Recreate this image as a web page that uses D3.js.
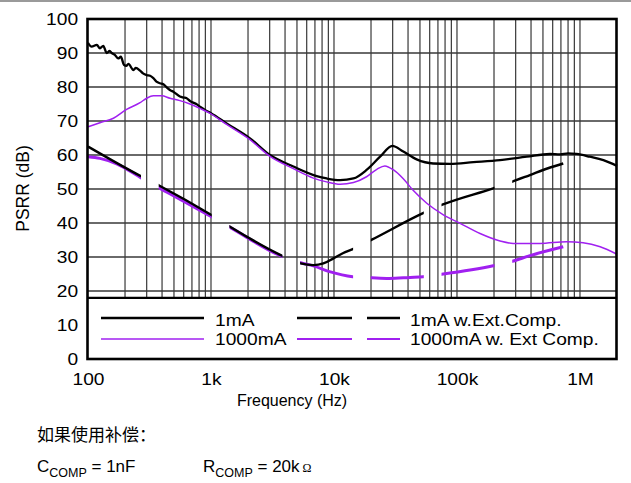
<!DOCTYPE html>
<html>
<head>
<meta charset="utf-8">
<script src="https://cdn.jsdelivr.net/npm/d3@7"></script>
<style>
  body { margin: 0; background: #fff; }
  svg { display: block; font-family: "Liberation Sans", Arial, sans-serif; }
</style>
</head>
<body>
<svg id="chart" width="631" height="483"></svg>
<script>
// PSRR vs frequency, four load / compensation conditions
const freq1mA = [100,107,118,125,133,142,150,156,166,176,185,196,205,213,234,245,265,280,300,320,
  340,360,385,410,436,470,494,559,600,634,680,718,760,814,900,1000,1340,2075,3020,4670,
  7230,8730,11200,14400,18400,23700,29800,36600,47000,64000,87700,136000,224000,369000,570000,688000,800000,940000,1200000,1550000,2000000];
const psrr1mA = [93.0,91.9,92.4,91.4,92.1,90.0,90.6,90.0,89.4,88.4,88.9,86.5,86.2,86.8,85.0,85.6,84.8,84.0,83.5,83.3,
  82.6,81.6,81.1,80.8,79.9,79.0,78.6,77.2,76.9,76.7,75.8,75.4,75.0,74.2,73.2,72.3,69.3,64.9,60.0,56.6,
  53.8,53.1,52.6,53.1,55.6,59.5,62.7,61.0,58.7,57.5,57.4,57.9,58.5,59.5,60.3,60.2,60.5,60.3,59.5,58.5,56.8];

const freq1000mA = [100,125,161,206,265,300,340,397,464,559,674,814,1000,1340,2075,3020,4670,6800,8700,11200,
  14400,18400,22300,25900,30500,36600,44000,56800,77500,106000,154000,224000,287000,473000,779000,1060000,1460000,2000000];
const psrr1000mA = [68.3,69.5,70.8,73.4,75.4,76.7,77.4,77.4,76.7,76.0,75.0,73.7,72.1,69.0,64.5,59.6,56.0,53.2,52.1,51.4,
  51.9,53.6,55.8,56.8,55.6,53.0,49.6,45.8,42.4,39.9,36.9,34.7,34.0,34.0,34.5,34.2,33.0,30.8];

const freqExt1mA = [100,275,385,1000,1430,3830,5360,6800,8200,9900,11800,14200,20300,53000,75000,197000,279000,392000,550000,731000];
const psrrExt1mA = [62.5,53.6,50.9,42.4,38.9,30.3,28.1,27.6,28.1,29.6,31.1,32.3,35.1,42.9,45.3,50.2,52.1,54.1,56.1,57.5];

const freqExt1000mA = [100,125,171,275,385,1000,1430,3830,5360,6800,9200,14200,20300,28000,41600,53000,75000,197000,279000,392000,731000];
const psrrExt1000mA = [59.5,59.0,57.4,53.1,50.2,41.9,38.7,30.1,28.3,27.4,25.7,24.2,23.9,23.7,24.0,24.2,24.9,27.4,28.7,30.4,33.0];

const xTickValues = [100, 1e3, 1e4, 1e5, 1e6];
const xTickLabels = ["100", "1k", "10k", "100k", "1M"];
const yTickValues = [0, 10, 20, 30, 40, 50, 60, 70, 80, 90, 100];
const gridDbValues = [20, 30, 40, 50, 60, 70, 80, 90];
const legendLabels = ["1mA", "1000mA", "1mA w.Ext.Comp.", "1000mA w. Ext Comp."];
const xTitle = "Frequency (Hz)";
const yTitle = "PSRR (dB)";
const noteLine = "如果使用补偿：";

const BLACK = "#000", PURPLE = "#a020f0", GRID = "#383838";
const TEXT_STRETCH = 1.13;

const svg = d3.select("#chart");
const x = d3.scaleLog().domain([100, 2e6]).range([88, 617]);
const y = d3.scaleLinear().domain([0, 100]).range([359, 19]);
const legendTop = y(18);

// thin rule across the top of the page
svg.append("rect").attr("x", 0).attr("y", 0).attr("width", 631).attr("height", 2).attr("fill", "#9a9a9a");

// grid
const minorFreqs = [];
for (let d = 100; d < 2e6; d *= 10) for (let m = 1; m <= 9; m++) {
  const f = d * m;
  if (f > 100 && f < 2e6) minorFreqs.push(f);
}
const grid = svg.append("g");
grid.selectAll("line.v").data(minorFreqs).join("line")
  .attr("x1", d => x(d)).attr("x2", d => x(d))
  .attr("y1", y(100)).attr("y2", legendTop)
  .attr("stroke", GRID).attr("stroke-width", 1.2);
grid.selectAll("line.h").data(gridDbValues).join("line")
  .attr("x1", x.range()[0]).attr("x2", x.range()[1])
  .attr("y1", d => y(d)).attr("y2", d => y(d))
  .attr("stroke", GRID).attr("stroke-width", 1.3);

// dash pattern laid out along the frequency axis
const dashPeriod = 70.7, dashLen = 53;
const defs = svg.append("defs");
const clip = defs.append("clipPath").attr("id", "dashClip");
d3.range(x.range()[0], x.range()[1], dashPeriod).forEach(s => {
  clip.append("rect").attr("x", s).attr("y", y(100)).attr("width", dashLen).attr("height", y(0) - y(100));
});

const line = d3.line().curve(d3.curveMonotoneX).x(d => x(d[0])).y(d => y(d[1]));
const zip = (a, b) => a.map((v, i) => [v, b[i]]);

const curves = svg.append("g");
curves.append("path").attr("d", line(zip(freq1mA, psrr1mA)))
  .attr("fill", "none").attr("stroke", BLACK).attr("stroke-width", 2.3).attr("stroke-linejoin", "round");
curves.append("path").attr("d", line(zip(freq1000mA, psrr1000mA)))
  .attr("fill", "none").attr("stroke", PURPLE).attr("stroke-width", 1.5);
curves.append("path").attr("d", line(zip(freqExt1000mA, psrrExt1000mA)))
  .attr("fill", "none").attr("stroke", PURPLE).attr("stroke-width", 3).attr("clip-path", "url(#dashClip)");
curves.append("path").attr("d", line(zip(freqExt1mA, psrrExt1mA)))
  .attr("fill", "none").attr("stroke", BLACK).attr("stroke-width", 2.4).attr("clip-path", "url(#dashClip)");

// legend box
const legend = svg.append("g");
legend.append("rect").attr("x", x.range()[0]).attr("y", legendTop)
  .attr("width", x.range()[1] - x.range()[0]).attr("height", y(0) - legendTop).attr("fill", "#fff");
legend.append("line").attr("x1", x.range()[0]).attr("x2", x.range()[1])
  .attr("y1", legendTop).attr("y2", legendTop).attr("stroke", BLACK).attr("stroke-width", 2.2);

const legendRows = [
  { label: legendLabels[0], color: BLACK, width: 2.4, dash: null, lx: 101, tx: 215, ly: 318, ty: 326 },
  { label: legendLabels[1], color: PURPLE, width: 1.6, dash: null, lx: 101, tx: 215, ly: 339, ty: 345 },
  { label: legendLabels[2], color: BLACK, width: 2.4, dash: "55,15", lx: 297, tx: 410, ly: 318, ty: 326 },
  { label: legendLabels[3], color: PURPLE, width: 2.2, dash: "55,15", lx: 297, tx: 410, ly: 339, ty: 345 }
];
legendRows.forEach(r => {
  legend.append("line").attr("x1", r.lx).attr("x2", r.lx + 103).attr("y1", r.ly).attr("y2", r.ly)
    .attr("stroke", r.color).attr("stroke-width", r.width).attr("stroke-dasharray", r.dash);
  legend.append("text").attr("transform", `translate(${r.tx},${r.ty}) scale(${TEXT_STRETCH},1)`)
    .attr("font-size", 17).attr("fill", BLACK).text(r.label);
});

// frame
svg.append("rect").attr("x", 87.5).attr("y", 19).attr("width", 616.5 - 87.5).attr("height", 359 - 19)
  .attr("fill", "none").attr("stroke", BLACK).attr("stroke-width", 2.6);

// axes
const yAxis = d3.axisLeft(y).tickValues(yTickValues).tickSize(0).tickPadding(8.8).tickFormat(d3.format("d"));
const gy = svg.append("g").attr("transform", `translate(${x.range()[0]},0)`).call(yAxis);
gy.select(".domain").remove();
gy.selectAll("text").attr("font-size", 17).attr("font-family", "Liberation Sans, Arial, sans-serif")
  .attr("fill", BLACK).attr("transform", `scale(${TEXT_STRETCH},1)`);

const xAxis = d3.axisBottom(x).tickValues(xTickValues).tickSize(0).tickPadding(14)
  .tickFormat((d, i) => xTickLabels[i]);
const gx = svg.append("g").attr("transform", `translate(0,${y(0)})`).call(xAxis);
gx.select(".domain").remove();
gx.selectAll("text").attr("font-size", 17).attr("font-family", "Liberation Sans, Arial, sans-serif")
  .attr("fill", BLACK).attr("transform", `scale(${TEXT_STRETCH},1)`);

// axis titles
svg.append("text").attr("x", 292).attr("y", 406).attr("text-anchor", "middle")
  .attr("font-size", 16).text(xTitle);
svg.append("text").attr("transform", "translate(29,188.5) rotate(-90)").attr("text-anchor", "middle")
  .attr("font-size", 17.5).text(yTitle);

// compensation note
svg.append("text").attr("x", 37).attr("y", 441)
  .attr("font-family", "'Noto Sans CJK SC', sans-serif").attr("font-size", 17).text(noteLine);

const cText = svg.append("text").attr("x", 37).attr("y", 472).attr("font-size", 17);
cText.append("tspan").text("C");
cText.append("tspan").attr("font-size", 12.5).attr("dy", 5).text("COMP");
cText.append("tspan").attr("dy", -5).text(" = 1nF");

const rText = svg.append("text").attr("x", 203).attr("y", 472).attr("font-size", 17);
rText.append("tspan").text("R");
rText.append("tspan").attr("font-size", 12.5).attr("dy", 5).text("COMP");
rText.append("tspan").attr("dy", -5).text(" = 20k");
rText.append("tspan").attr("dx", 3).attr("font-size", 12).attr("font-family", "'Liberation Serif', serif").text("Ω");
</script>
</body>
</html>
